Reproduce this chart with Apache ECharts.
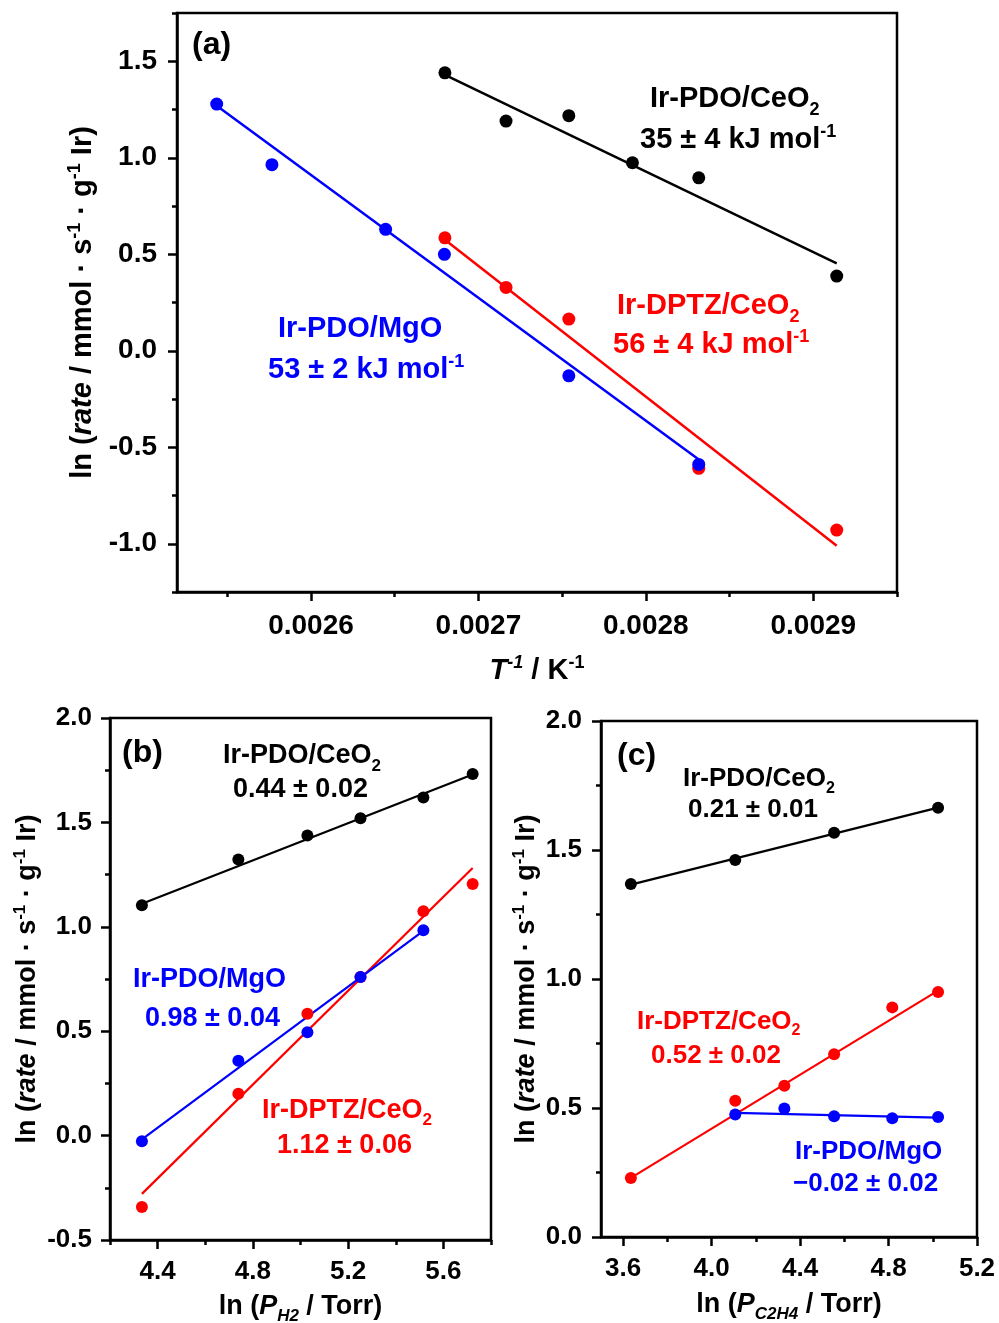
<!DOCTYPE html>
<html lang="en">
<head>
<meta charset="UTF-8">
<title>ln rate plots</title>
<script src="https://cdn.jsdelivr.net/npm/echarts@6/dist/echarts.min.js"></script>
<style>html,body{margin:0;padding:0;background:#fff;}</style>
</head>
<body>
<div id="chart" style="width:999px;height:1323px;"></div>
<script type="text/javascript">
// ---- (a) Arrhenius plot ----
var aPdoCeX = [0.00268, 0.0027165, 0.002754, 0.002792, 0.0028316, 0.002914];
var aPdoCeY = [1.44, 1.19, 1.218, 0.974, 0.896, 0.387];
var aDptzX = [0.00268, 0.0027165, 0.002754, 0.0028316, 0.002914];
var aDptzY = [0.585, 0.328, 0.164, -0.609, -0.929];
var aMgoX = [0.0025437, 0.0025767, 0.0026446, 0.0026797, 0.002754, 0.0028316];
var aMgoY = [1.278, 0.964, 0.629, 0.4995, -0.13, -0.589];
var aPdoCeFit = [[0.00268, 1.43], [0.002914, 0.453]];
var aDptzFit = [[0.00268, 0.575], [0.002914, -1.01]];
var aMgoFit = [[0.0025437, 1.27], [0.0028316, -0.563]];
var aXTicks = [0.0026, 0.0027, 0.0028, 0.0029];
var aXMinor = [0.00255, 0.00265, 0.00275, 0.00285, 0.00295];
var aYTicks = [-1.0, -0.5, 0.0, 0.5, 1.0, 1.5];
var aYMinor = [-1.25, -0.75, -0.25, 0.25, 0.75, 1.25, 1.75];

// ---- (b) H2 order ----
var bX = [4.334, 4.739, 5.029, 5.252, 5.516, 5.723];
var bPdoCeY = [1.103, 1.322, 1.437, 1.520, 1.619, 1.732];
var bDptzY = [-0.342, 0.2, 0.584, 0.76, 1.074, 1.205];
var bMgoY = [-0.027, 0.359, 0.495, 0.760, 0.983];
var bPdoCeFit = [[4.334, 1.11], [5.723, 1.729]];
var bDptzFit = [[4.334, -0.279], [5.723, 1.282]];
var bMgoFit = [[4.334, -0.018], [5.516, 0.98]];
var bXTicks = [4.4, 4.8, 5.2, 5.6];
var bXMinor = [4.2, 4.6, 5.0, 5.4, 5.8];
var bYTicks = [-0.5, 0.0, 0.5, 1.0, 1.5, 2.0];
var bYMinor = [-0.25, 0.25, 0.75, 1.25, 1.75];

// ---- (c) C2H4 order ----
var cPdoCeX = [3.635, 4.107, 4.554, 5.024];
var cPdoCeY = [1.368, 1.461, 1.567, 1.664];
var cDptzX = [3.635, 4.107, 4.329, 4.554, 4.817, 5.024];
var cDptzY = [0.229, 0.528, 0.586, 0.708, 0.890, 0.950];
var cMgoX = [4.107, 4.329, 4.554, 4.817, 5.024];
var cMgoY = [0.475, 0.498, 0.468, 0.460, 0.465];
var cPdoCeFit = [[3.635, 1.366], [5.024, 1.664]];
var cDptzFit = [[3.635, 0.229], [5.024, 0.955]];
var cMgoFit = [[4.107, 0.481], [5.024, 0.463]];
var cXTicks = [3.6, 4.0, 4.4, 4.8, 5.2];
var cXMinor = [3.8, 4.2, 4.6, 5.0];
var cYTicks = [0.0, 0.5, 1.0, 1.5, 2.0];
var cYMinor = [0.25, 0.75, 1.25, 1.75];

var FAM = '"Liberation Sans", Arial, sans-serif';
var BLACK = '#000000', RED = '#ff0000', BLUE = '#0000ff';

function zipXY(xs, ys) {
    return ys.map(function (y, i) { return [xs[i], y]; });
}

// rich styles for axis names (echarts label style)
function eRich(f) {
    var s = Math.round(f * 0.62), L = Math.round(f * 1.5);
    function tok(size, italic, extra) {
        return Object.assign({color: BLACK, fontFamily: FAM, fontWeight: 'bold', fontSize: size,
            fontStyle: italic ? 'italic' : 'normal'}, extra);
    }
    return {
        m: tok(f, false, {lineHeight: L, verticalAlign: 'middle'}),
        i: tok(f, true, {lineHeight: L, verticalAlign: 'middle'}),
        sup: tok(s, false, {lineHeight: s, height: Math.round(f * 0.98), verticalAlign: 'top'}),
        isup: tok(s, true, {lineHeight: s, height: Math.round(f * 0.98), verticalAlign: 'top'}),
        isub: tok(s, true, {lineHeight: s, height: Math.round(f * 0.76), verticalAlign: 'bottom'})
    };
}

// rich styles for graphic text (zrender style)
function gRich(f, c) {
    var s = Math.round(f * 0.62), L = Math.round(f * 1.5);
    return {
        m: {font: 'bold ' + f + 'px ' + FAM, fill: c, lineHeight: L, verticalAlign: 'middle'},
        sub: {font: 'bold ' + s + 'px ' + FAM, fill: c, lineHeight: s, height: Math.round(f * 0.76), verticalAlign: 'bottom'},
        sup: {font: 'bold ' + s + 'px ' + FAM, fill: c, lineHeight: s, height: Math.round(f * 0.98), verticalAlign: 'top'}
    };
}

function note(x, base, f, c, text) {
    return {
        type: 'text', x: x, y: base - 0.3 * f, z: 100,
        style: {text: text, rich: gRich(f, c), fill: c, font: 'bold ' + f + 'px ' + FAM,
            align: 'left', verticalAlign: 'middle'}
    };
}

function majorAxis(gi, pos, min, max, ticks, digits, fs, margin, name, gap, nfs) {
    return {
        type: 'value', gridIndex: gi, position: pos, min: min, max: max,
        name: name, nameLocation: 'middle', nameGap: gap,
        nameTextStyle: {color: BLACK, fontFamily: FAM, fontWeight: 'bold', fontSize: nfs, rich: eRich(nfs)},
        axisLine: {show: true, onZero: false, lineStyle: {color: BLACK, width: 2.5}},
        axisTick: {show: true, inside: false, length: 9, customValues: ticks, lineStyle: {color: BLACK, width: 2.5}},
        axisLabel: {customValues: ticks, margin: margin, color: BLACK, fontFamily: FAM, fontWeight: 'bold', fontSize: fs,
            formatter: function (v) { return (+v).toFixed(digits); }},
        splitLine: {show: false}
    };
}

function minorAxis(gi, pos, min, max, ticks) {
    return {
        type: 'value', gridIndex: gi, position: pos, min: min, max: max,
        axisLine: {show: false, onZero: false},
        axisTick: {show: true, inside: false, length: 5, customValues: ticks, lineStyle: {color: BLACK, width: 2.5}},
        axisLabel: {show: false}, splitLine: {show: false}
    };
}

function dots(xi, yi, data, color, size) {
    return {type: 'scatter', xAxisIndex: xi, yAxisIndex: yi, data: data, symbol: 'circle', symbolSize: size,
        itemStyle: {color: color, opacity: 1}, z: 5, silent: true};
}
function fit(xi, yi, data, color, w) {
    return {type: 'line', xAxisIndex: xi, yAxisIndex: yi, data: data, symbol: 'none',
        lineStyle: {color: color, width: w}, z: 3, silent: true};
}

var yNameA = '{m|ln (}{i|rate}{m| / mmol · s}{sup|-1}{m| · g}{sup|-1}{m| Ir)}';

var chart = echarts.init(document.getElementById('chart'));
chart.setOption({
    animation: false,
    backgroundColor: '#ffffff',
    grid: [
        {left: 177, top: 13, width: 720, height: 579, show: true, borderColor: BLACK, borderWidth: 2.5, outerBoundsMode: 'none'},
        {left: 110, top: 718, width: 381, height: 522, show: true, borderColor: BLACK, borderWidth: 2.5, outerBoundsMode: 'none'},
        {left: 601, top: 721, width: 376, height: 516, show: true, borderColor: BLACK, borderWidth: 2.5, outerBoundsMode: 'none'}
    ],
    xAxis: [
        majorAxis(0, 'bottom', 0.00252, 0.00295, aXTicks, 4, 28, 20, '{i|T}{isup|-1}{m| / K}{sup|-1}', 57, 29),
        minorAxis(0, 'bottom', 0.00252, 0.00295, aXMinor),
        majorAxis(1, 'bottom', 4.2, 5.8, bXTicks, 1, 26, 19, '{m|ln (}{i|P}{isub|H2}{m| / Torr)}', 46, 27),
        minorAxis(1, 'bottom', 4.2, 5.8, bXMinor),
        majorAxis(2, 'bottom', 3.5, 5.2, cXTicks, 1, 26, 19, '{m|ln (}{i|P}{isub|C2H4}{m| / Torr)}', 47, 27),
        minorAxis(2, 'bottom', 3.5, 5.2, cXMinor)
    ],
    yAxis: [
        majorAxis(0, 'left', -1.25, 1.75, aYTicks, 1, 28, 20, yNameA, 69, 29),
        minorAxis(0, 'left', -1.25, 1.75, aYMinor),
        majorAxis(1, 'left', -0.5, 2.0, bYTicks, 1, 26, 18, yNameA, 62, 27),
        minorAxis(1, 'left', -0.5, 2.0, bYMinor),
        majorAxis(2, 'left', 0, 2.0, cYTicks, 1, 26, 19, yNameA, 54, 27),
        minorAxis(2, 'left', 0, 2.0, cYMinor)
    ],
    series: [
        fit(0, 0, aPdoCeFit, BLACK, 2.5),
        fit(0, 0, aDptzFit, RED, 2.5),
        fit(0, 0, aMgoFit, BLUE, 2.5),
        dots(0, 0, zipXY(aPdoCeX, aPdoCeY), BLACK, 13),
        dots(0, 0, zipXY(aDptzX, aDptzY), RED, 13),
        dots(0, 0, zipXY(aMgoX, aMgoY), BLUE, 13),

        fit(2, 2, bPdoCeFit, BLACK, 2.2),
        fit(2, 2, bDptzFit, RED, 2.2),
        fit(2, 2, bMgoFit, BLUE, 2.2),
        dots(2, 2, zipXY(bX, bPdoCeY), BLACK, 12),
        dots(2, 2, zipXY(bX, bDptzY), RED, 12),
        dots(2, 2, zipXY(bX, bMgoY), BLUE, 12),

        fit(4, 4, cPdoCeFit, BLACK, 2.2),
        fit(4, 4, cDptzFit, RED, 2.2),
        fit(4, 4, cMgoFit, BLUE, 2.2),
        dots(4, 4, zipXY(cPdoCeX, cPdoCeY), BLACK, 12),
        dots(4, 4, zipXY(cDptzX, cDptzY), RED, 12),
        dots(4, 4, zipXY(cMgoX, cMgoY), BLUE, 12)
    ],
    graphic: [
        {type: 'text', x: 192, y: 45, style: {text: '(a)', font: 'bold 32px ' + FAM, fill: BLACK, align: 'left', verticalAlign: 'middle'}},
        {type: 'text', x: 122, y: 753, style: {text: '(b)', font: 'bold 32px ' + FAM, fill: BLACK, align: 'left', verticalAlign: 'middle'}},
        {type: 'text', x: 617, y: 756, style: {text: '(c)', font: 'bold 32px ' + FAM, fill: BLACK, align: 'left', verticalAlign: 'middle'}},

        note(650, 107.7, 29, BLACK, '{m|Ir-PDO/CeO}{sub|2}'),
        note(640, 148.3, 29, BLACK, '{m|35 ± 4 kJ mol}{sup|-1}'),
        note(617, 315, 29, RED, '{m|Ir-DPTZ/CeO}{sub|2}'),
        note(613, 353.3, 29, RED, '{m|56 ± 4 kJ mol}{sup|-1}'),
        note(278, 338, 29, BLUE, '{m|Ir-PDO/MgO}'),
        note(268, 378.3, 29, BLUE, '{m|53 ± 2 kJ mol}{sup|-1}'),

        note(223, 764, 27, BLACK, '{m|Ir-PDO/CeO}{sub|2}'),
        note(233, 797.3, 27, BLACK, '{m|0.44 ± 0.02}'),
        note(133, 987.7, 27, BLUE, '{m|Ir-PDO/MgO}'),
        note(145, 1026.7, 27, BLUE, '{m|0.98 ± 0.04}'),
        note(262, 1118.3, 27, RED, '{m|Ir-DPTZ/CeO}{sub|2}'),
        note(277, 1154, 27, RED, '{m|1.12 ± 0.06}'),

        note(683, 786.7, 26, BLACK, '{m|Ir-PDO/CeO}{sub|2}'),
        note(688, 817.7, 26, BLACK, '{m|0.21 ± 0.01}'),
        note(637, 1029.3, 26, RED, '{m|Ir-DPTZ/CeO}{sub|2}'),
        note(651, 1063.3, 26, RED, '{m|0.52 ± 0.02}'),
        note(795, 1159.3, 26, BLUE, '{m|Ir-PDO/MgO}'),
        note(793, 1191.7, 26, BLUE, '{m|\u22120.02 ± 0.02}')
    ]
});
</script>
</body>
</html>
